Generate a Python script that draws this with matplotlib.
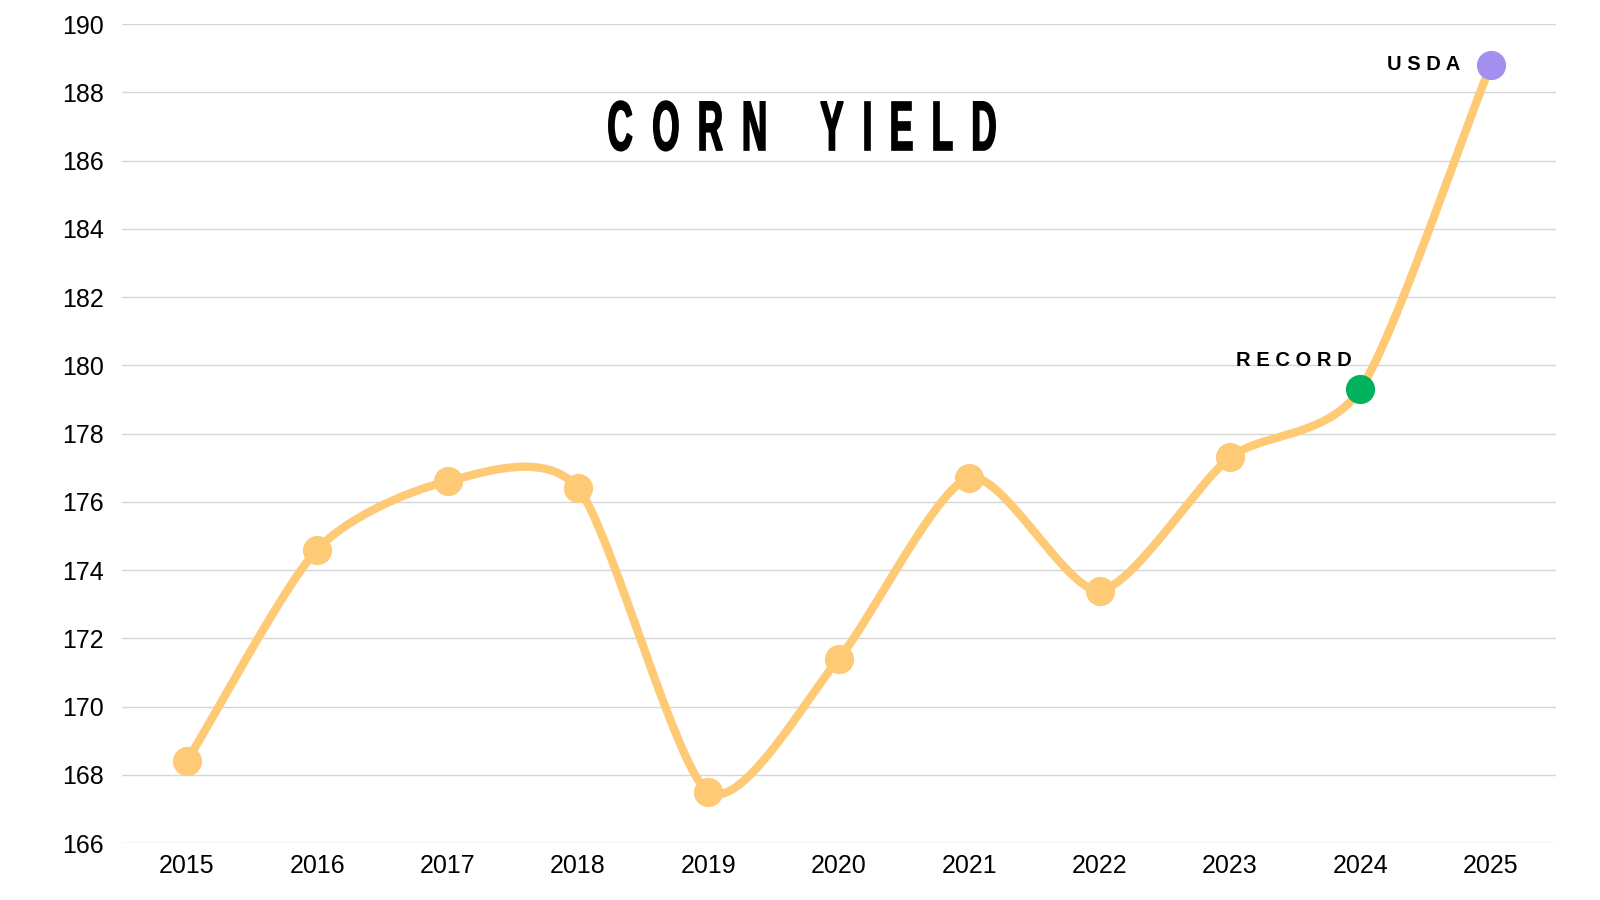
import numpy as np
import matplotlib
matplotlib.use("Agg")
import matplotlib.pyplot as plt
from matplotlib.textpath import TextPath
from matplotlib.font_manager import FontProperties
from matplotlib.patches import PathPatch
from matplotlib.transforms import Affine2D, IdentityTransform

years = [2015, 2016, 2017, 2018, 2019, 2020, 2021, 2022, 2023, 2024, 2025]
yield_bu = [168.4, 174.6, 176.6, 176.4, 167.5, 171.4, 176.7, 173.4, 177.3, 179.3, 188.8]
yticks = [166, 168, 170, 172, 174, 176, 178, 180, 182, 184, 186, 188, 190]
title = "CORN YIELD"

line_color = "#FFCA75"
record_color = "#00B25E"
usda_color = "#A390EE"


def smooth(xs, ys, s=0.75, n=40):
    # cardinal spline through the points, only used to draw the line
    xs = np.asarray(xs, float)
    ys = np.asarray(ys, float)
    px = np.concatenate([[2 * xs[0] - xs[1]], xs, [2 * xs[-1] - xs[-2]]])
    py = np.concatenate([[2 * ys[0] - ys[1]], ys, [2 * ys[-1] - ys[-2]]])
    t = np.linspace(0, 1, n)
    h00 = 2 * t**3 - 3 * t**2 + 1
    h10 = t**3 - 2 * t**2 + t
    h01 = -2 * t**3 + 3 * t**2
    h11 = t**3 - t**2
    out_x, out_y = [], []
    for i in range(1, len(px) - 2):
        for p, out in ((px, out_x), (py, out_y)):
            m1 = s * (p[i + 1] - p[i - 1]) / 2
            m2 = s * (p[i + 2] - p[i]) / 2
            out.extend(h00 * p[i] + h10 * m1 + h01 * p[i + 1] + h11 * m2)
    return np.array(out_x), np.array(out_y)


plt.rcParams['font.family'] = ['Liberation Sans', 'DejaVu Sans']

fig = plt.figure(figsize=(16, 9), dpi=100)
ax = fig.add_axes([0.076, 0.0633, 0.8965, 0.91])

x = np.arange(len(years))
sx, sy = smooth(x, yield_bu)
ax.plot(sx, sy, color=line_color, linewidth=6, solid_capstyle='round', zorder=3)
ax.plot(x[:-2], yield_bu[:-2], 'o', color=line_color, markersize=20, zorder=4)
ax.plot(x[-2], yield_bu[-2], 'o', color=record_color, markersize=20, zorder=5)
ax.plot(x[-1], yield_bu[-1], 'o', color=usda_color, markersize=20, zorder=5)

ax.set_xlim(-0.5, 10.5)
ax.set_ylim(166, 190)
ax.set_xticks(x)
ax.set_xticklabels([str(y) for y in years], fontsize=18)
ax.set_yticks(yticks)
ax.set_yticklabels([str(v) for v in yticks], fontsize=18)
ax.tick_params(axis='both', length=0)
ax.tick_params(axis='y', pad=13)
ax.tick_params(axis='x', pad=8)
ax.grid(axis='y', color='#d6d6d6', linewidth=1)
ax.set_axisbelow(True)
for s in ax.spines.values():
    s.set_visible(False)

  # condensed, letter-spaced title built from glyph paths (pixel coords)
fp = FontProperties(family='Liberation Sans', weight='bold')
size, xscale, tracking, space = 70, 0.5, 22, 34
glyphs = []
cursor = 0
for ch in title:
    if ch == " ":
        cursor += space
        continue
    path = TextPath((0, 0), ch, size=size, prop=fp)
    ext = path.get_extents()
    glyphs.append((path, cursor - ext.x0 * xscale))
    cursor += ext.width * xscale + tracking
total = cursor - tracking
x0 = 802 - total / 2
baseline = 900 - 150
for path, off in glyphs:
    tr = Affine2D().scale(xscale, 1).translate(x0 + off, baseline)
    fig.add_artist(PathPatch(tr.transform_path(path), transform=IdentityTransform(),
                             facecolor='black', edgecolor='black', linewidth=1.2))

ax.annotate("U S D A", (x[-1], yield_bu[-1]), xytext=(-22, 0), textcoords='offset points',
            ha='right', va='center', fontsize=14.5, fontweight='bold')
ax.annotate("R E C O R D", (x[-2], yield_bu[-2]), xytext=(-6, 21), textcoords='offset points',
            ha='right', va='center', fontsize=14.5, fontweight='bold')

fig.savefig('out.png', dpi=100)
